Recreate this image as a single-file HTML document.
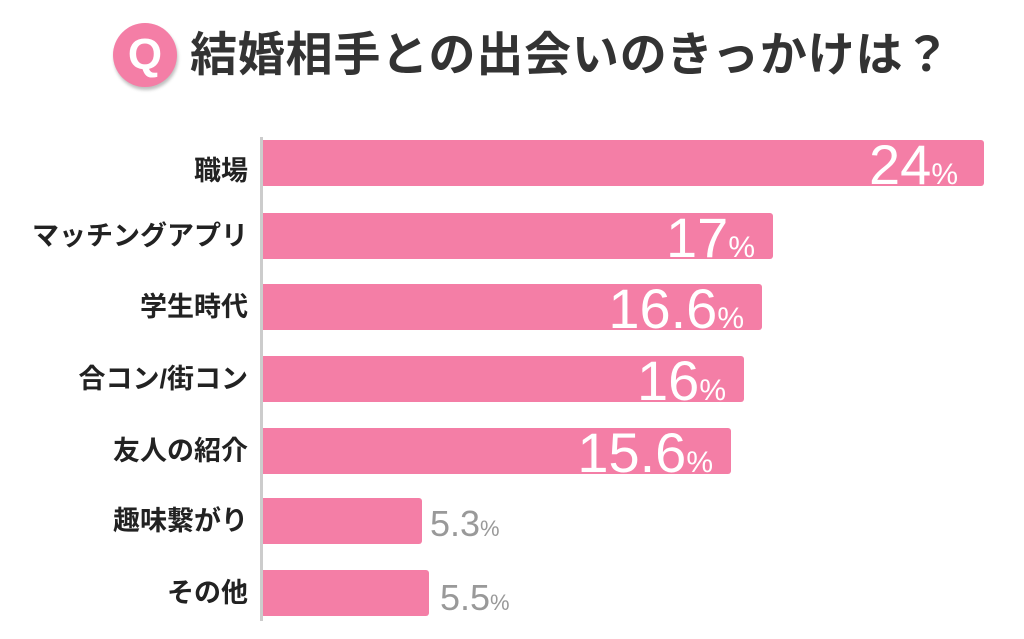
<!DOCTYPE html>
<html><head><meta charset="utf-8"><style>
body{margin:0;width:1024px;height:639px;background:#fff;position:relative;overflow:hidden;font-family:"Liberation Sans","Noto Sans CJK JP",sans-serif}
.q{position:absolute;left:113px;top:23px;width:64px;height:64px;border-radius:50%;background:#f47ea6;box-shadow:1px 3px 3px rgba(0,0,0,.25);color:#fff;font-weight:bold;font-size:44px;text-align:center;line-height:64px}
.t{position:absolute;left:190px;top:26px;font-size:47px;font-weight:bold;color:#333;line-height:58px;white-space:nowrap;letter-spacing:0.8px}
.axis{position:absolute;left:260px;top:137px;width:3px;height:484px;background:#ccc}
.bar{position:absolute;left:263px;height:46px;background:#f47ea6;border-radius:0 3px 3px 0}
.lab{position:absolute;right:776px;font-size:27px;font-weight:bold;color:#222;white-space:nowrap;line-height:46px;letter-spacing:0}
.v{position:absolute;color:#fff;font-size:56px;line-height:46px;white-space:nowrap;text-align:right}
.v span{font-size:30px}
.g{position:absolute;color:#999;font-size:36px;line-height:46px;white-space:nowrap}
.g span{font-size:22px}
</style></head><body>
<div class="q">Q</div>
<div class="t">結婚相手との出会いのきっかけは？</div>
<div class="axis"></div>

<div class="bar" style="top:140px;width:721px"></div><div class="lab" style="top:148px">職場</div>
<div class="v" style="top:142px;right:66px">24<span>%</span></div>

<div class="bar" style="top:213px;width:510px"></div><div class="lab" style="top:213px">マッチングアプリ</div>
<div class="v" style="top:215px;right:269px">17<span>%</span></div>

<div class="bar" style="top:284px;width:499px"></div><div class="lab" style="top:284px">学生時代</div>
<div class="v" style="top:286px;right:280px">16.6<span>%</span></div>

<div class="bar" style="top:356px;width:481px"></div><div class="lab" style="top:356px">合コン/街コン</div>
<div class="v" style="top:358px;right:298px">16<span>%</span></div>

<div class="bar" style="top:428px;width:468px"></div><div class="lab" style="top:428px">友人の紹介</div>
<div class="v" style="top:430px;right:311px">15.6<span>%</span></div>

<div class="bar" style="top:498px;width:159px"></div><div class="lab" style="top:498px">趣味繋がり</div>
<div class="g" style="top:501px;left:430px">5.3<span>%</span></div>

<div class="bar" style="top:570px;width:166px"></div><div class="lab" style="top:570px">その他</div>
<div class="g" style="top:575px;left:440px">5.5<span>%</span></div>
</body></html>
